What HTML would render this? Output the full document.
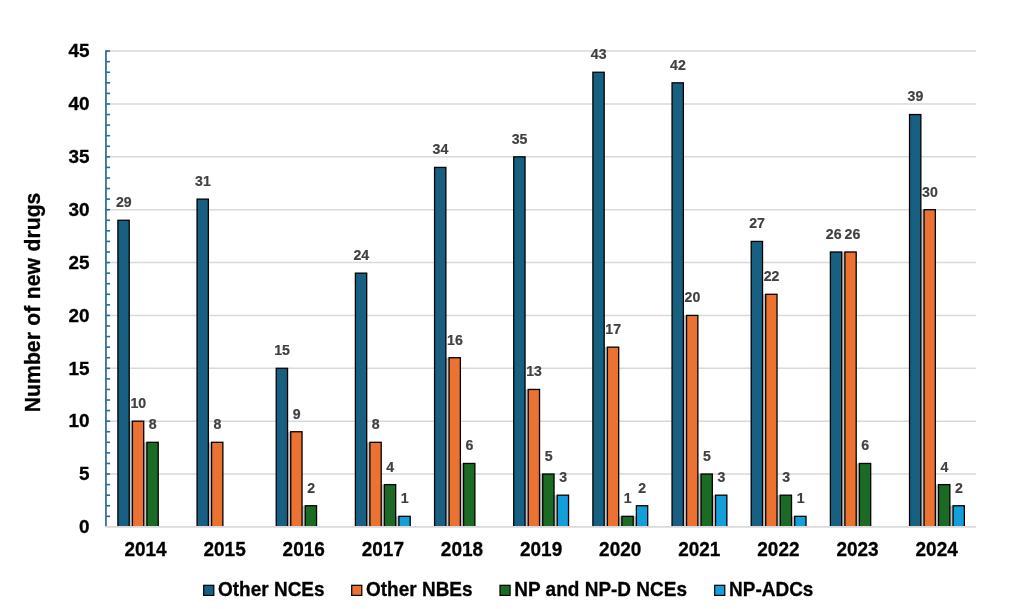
<!DOCTYPE html>
<html lang="en"><head><meta charset="utf-8"><title>Number of new drugs</title>
<style>html,body{margin:0;padding:0;background:#fff;width:1026px;height:609px;overflow:hidden}</style></head>
<body>
<svg width="1026" height="609" viewBox="0 0 1026 609" style="display:block;position:absolute;left:0;top:0">
<rect width="1026" height="609" fill="#fff"/>
<g stroke="#d9d9d9" stroke-width="1.5">
<line x1="105.95" x2="976.2" y1="474.03" y2="474.03"/>
<line x1="105.95" x2="976.2" y1="421.17" y2="421.17"/>
<line x1="105.95" x2="976.2" y1="368.30" y2="368.30"/>
<line x1="105.95" x2="976.2" y1="315.43" y2="315.43"/>
<line x1="105.95" x2="976.2" y1="262.57" y2="262.57"/>
<line x1="105.95" x2="976.2" y1="209.70" y2="209.70"/>
<line x1="105.95" x2="976.2" y1="156.83" y2="156.83"/>
<line x1="105.95" x2="976.2" y1="103.97" y2="103.97"/>
<line x1="105.95" x2="976.2" y1="51.10" y2="51.10"/>
</g>
<g fill="#c4c4c4">
<rect x="129.21" y="421.17" width="3.20" height="105.73"/>
<rect x="143.71" y="442.31" width="3.20" height="84.59"/>
<rect x="208.37" y="442.31" width="3.20" height="84.59"/>
<rect x="287.54" y="431.74" width="3.20" height="95.16"/>
<rect x="302.04" y="505.75" width="3.20" height="21.15"/>
<rect x="366.70" y="442.31" width="3.20" height="84.59"/>
<rect x="381.20" y="484.61" width="3.20" height="42.29"/>
<rect x="395.70" y="516.33" width="3.20" height="10.57"/>
<rect x="445.87" y="357.73" width="3.20" height="169.17"/>
<rect x="460.37" y="463.46" width="3.20" height="63.44"/>
<rect x="525.03" y="389.45" width="3.20" height="137.45"/>
<rect x="539.53" y="474.03" width="3.20" height="52.87"/>
<rect x="554.03" y="495.18" width="3.20" height="31.72"/>
<rect x="604.19" y="347.15" width="3.20" height="179.75"/>
<rect x="618.69" y="516.33" width="3.20" height="10.57"/>
<rect x="633.19" y="516.33" width="3.20" height="10.57"/>
<rect x="683.36" y="315.43" width="3.20" height="211.47"/>
<rect x="697.86" y="474.03" width="3.20" height="52.87"/>
<rect x="712.36" y="495.18" width="3.20" height="31.72"/>
<rect x="762.52" y="294.29" width="3.20" height="232.61"/>
<rect x="777.02" y="495.18" width="3.20" height="31.72"/>
<rect x="791.52" y="516.33" width="3.20" height="10.57"/>
<rect x="841.69" y="251.99" width="3.20" height="274.91"/>
<rect x="856.19" y="463.46" width="3.20" height="63.44"/>
<rect x="920.85" y="209.70" width="3.20" height="317.20"/>
<rect x="935.35" y="484.61" width="3.20" height="42.29"/>
<rect x="949.85" y="505.75" width="3.20" height="21.15"/>
</g>
<g fill="#176082" stroke="#000" stroke-width="1.3">
<rect x="117.91" y="220.27" width="11.3" height="308.63"/>
<rect x="197.07" y="199.13" width="11.3" height="329.77"/>
<rect x="276.24" y="368.30" width="11.3" height="160.60"/>
<rect x="355.40" y="273.14" width="11.3" height="255.76"/>
<rect x="434.57" y="167.41" width="11.3" height="361.49"/>
<rect x="513.73" y="156.83" width="11.3" height="372.07"/>
<rect x="592.89" y="72.25" width="11.3" height="456.65"/>
<rect x="672.06" y="82.82" width="11.3" height="446.08"/>
<rect x="751.22" y="241.42" width="11.3" height="287.48"/>
<rect x="830.39" y="251.99" width="11.3" height="276.91"/>
<rect x="909.55" y="114.54" width="11.3" height="414.36"/>
</g>
<g fill="#ec7231" stroke="#000" stroke-width="1.3">
<rect x="132.41" y="421.17" width="11.3" height="107.73"/>
<rect x="211.57" y="442.31" width="11.3" height="86.59"/>
<rect x="290.74" y="431.74" width="11.3" height="97.16"/>
<rect x="369.90" y="442.31" width="11.3" height="86.59"/>
<rect x="449.07" y="357.73" width="11.3" height="171.17"/>
<rect x="528.23" y="389.45" width="11.3" height="139.45"/>
<rect x="607.39" y="347.15" width="11.3" height="181.75"/>
<rect x="686.56" y="315.43" width="11.3" height="213.47"/>
<rect x="765.72" y="294.29" width="11.3" height="234.61"/>
<rect x="844.89" y="251.99" width="11.3" height="276.91"/>
<rect x="924.05" y="209.70" width="11.3" height="319.20"/>
</g>
<g fill="#1b6b25" stroke="#000" stroke-width="1.3">
<rect x="146.91" y="442.31" width="11.3" height="86.59"/>
<rect x="305.24" y="505.75" width="11.3" height="23.15"/>
<rect x="384.40" y="484.61" width="11.3" height="44.29"/>
<rect x="463.57" y="463.46" width="11.3" height="65.44"/>
<rect x="542.73" y="474.03" width="11.3" height="54.87"/>
<rect x="621.89" y="516.33" width="11.3" height="12.57"/>
<rect x="701.06" y="474.03" width="11.3" height="54.87"/>
<rect x="780.22" y="495.18" width="11.3" height="33.72"/>
<rect x="859.39" y="463.46" width="11.3" height="65.44"/>
<rect x="938.55" y="484.61" width="11.3" height="44.29"/>
</g>
<g fill="#13a0d8" stroke="#000" stroke-width="1.3">
<rect x="398.90" y="516.33" width="11.3" height="12.57"/>
<rect x="557.23" y="495.18" width="11.3" height="33.72"/>
<rect x="636.39" y="505.75" width="11.3" height="23.15"/>
<rect x="715.56" y="495.18" width="11.3" height="33.72"/>
<rect x="794.72" y="516.33" width="11.3" height="12.57"/>
<rect x="953.05" y="505.75" width="11.3" height="23.15"/>
</g>
<rect x="100" y="526.90" width="900" height="6" fill="#fff"/>
<g stroke="#256b92">
<line x1="105.95" x2="105.95" y1="50.30" y2="526.90" stroke-width="1.7"/>
<line x1="105.95" x2="110.05" y1="516.33" y2="516.33" stroke-width="1.6"/>
<line x1="105.95" x2="110.05" y1="505.75" y2="505.75" stroke-width="1.6"/>
<line x1="105.95" x2="110.05" y1="495.18" y2="495.18" stroke-width="1.6"/>
<line x1="105.95" x2="110.05" y1="484.61" y2="484.61" stroke-width="1.6"/>
<line x1="105.95" x2="110.05" y1="474.03" y2="474.03" stroke-width="1.6"/>
<line x1="105.95" x2="110.05" y1="463.46" y2="463.46" stroke-width="1.6"/>
<line x1="105.95" x2="110.05" y1="452.89" y2="452.89" stroke-width="1.6"/>
<line x1="105.95" x2="110.05" y1="442.31" y2="442.31" stroke-width="1.6"/>
<line x1="105.95" x2="110.05" y1="431.74" y2="431.74" stroke-width="1.6"/>
<line x1="105.95" x2="110.05" y1="421.17" y2="421.17" stroke-width="1.6"/>
<line x1="105.95" x2="110.05" y1="410.59" y2="410.59" stroke-width="1.6"/>
<line x1="105.95" x2="110.05" y1="400.02" y2="400.02" stroke-width="1.6"/>
<line x1="105.95" x2="110.05" y1="389.45" y2="389.45" stroke-width="1.6"/>
<line x1="105.95" x2="110.05" y1="378.87" y2="378.87" stroke-width="1.6"/>
<line x1="105.95" x2="110.05" y1="368.30" y2="368.30" stroke-width="1.6"/>
<line x1="105.95" x2="110.05" y1="357.73" y2="357.73" stroke-width="1.6"/>
<line x1="105.95" x2="110.05" y1="347.15" y2="347.15" stroke-width="1.6"/>
<line x1="105.95" x2="110.05" y1="336.58" y2="336.58" stroke-width="1.6"/>
<line x1="105.95" x2="110.05" y1="326.01" y2="326.01" stroke-width="1.6"/>
<line x1="105.95" x2="110.05" y1="315.43" y2="315.43" stroke-width="1.6"/>
<line x1="105.95" x2="110.05" y1="304.86" y2="304.86" stroke-width="1.6"/>
<line x1="105.95" x2="110.05" y1="294.29" y2="294.29" stroke-width="1.6"/>
<line x1="105.95" x2="110.05" y1="283.71" y2="283.71" stroke-width="1.6"/>
<line x1="105.95" x2="110.05" y1="273.14" y2="273.14" stroke-width="1.6"/>
<line x1="105.95" x2="110.05" y1="262.57" y2="262.57" stroke-width="1.6"/>
<line x1="105.95" x2="110.05" y1="251.99" y2="251.99" stroke-width="1.6"/>
<line x1="105.95" x2="110.05" y1="241.42" y2="241.42" stroke-width="1.6"/>
<line x1="105.95" x2="110.05" y1="230.85" y2="230.85" stroke-width="1.6"/>
<line x1="105.95" x2="110.05" y1="220.27" y2="220.27" stroke-width="1.6"/>
<line x1="105.95" x2="110.05" y1="209.70" y2="209.70" stroke-width="1.6"/>
<line x1="105.95" x2="110.05" y1="199.13" y2="199.13" stroke-width="1.6"/>
<line x1="105.95" x2="110.05" y1="188.55" y2="188.55" stroke-width="1.6"/>
<line x1="105.95" x2="110.05" y1="177.98" y2="177.98" stroke-width="1.6"/>
<line x1="105.95" x2="110.05" y1="167.41" y2="167.41" stroke-width="1.6"/>
<line x1="105.95" x2="110.05" y1="156.83" y2="156.83" stroke-width="1.6"/>
<line x1="105.95" x2="110.05" y1="146.26" y2="146.26" stroke-width="1.6"/>
<line x1="105.95" x2="110.05" y1="135.69" y2="135.69" stroke-width="1.6"/>
<line x1="105.95" x2="110.05" y1="125.11" y2="125.11" stroke-width="1.6"/>
<line x1="105.95" x2="110.05" y1="114.54" y2="114.54" stroke-width="1.6"/>
<line x1="105.95" x2="110.05" y1="103.97" y2="103.97" stroke-width="1.6"/>
<line x1="105.95" x2="110.05" y1="93.39" y2="93.39" stroke-width="1.6"/>
<line x1="105.95" x2="110.05" y1="82.82" y2="82.82" stroke-width="1.6"/>
<line x1="105.95" x2="110.05" y1="72.25" y2="72.25" stroke-width="1.6"/>
<line x1="105.95" x2="110.05" y1="61.67" y2="61.67" stroke-width="1.6"/>
<line x1="105.95" x2="110.05" y1="51.10" y2="51.10" stroke-width="1.6"/>
</g>
<line x1="105.15" x2="976.2" y1="526.80" y2="526.80" stroke="#d9d9d9" stroke-width="1.7"/>
<g font-family="'Liberation Sans', Arial, Helvetica, sans-serif" font-weight="700" font-size="18.9" fill="#000" stroke="#000" stroke-width="0.3" text-anchor="end">
<text transform="translate(89.6,533.10)">0</text>
<text transform="translate(89.6,480.23)">5</text>
<text transform="translate(89.6,427.37)">10</text>
<text transform="translate(89.6,374.50)">15</text>
<text transform="translate(89.6,321.63)">20</text>
<text transform="translate(89.6,268.77)">25</text>
<text transform="translate(89.6,215.90)">30</text>
<text transform="translate(89.6,163.03)">35</text>
<text transform="translate(89.6,110.17)">40</text>
<text transform="translate(89.6,57.30)">45</text>
</g>
<g font-family="'Liberation Sans', Arial, Helvetica, sans-serif" font-weight="700" font-size="19.9" fill="#000" stroke="#000" stroke-width="0.3" text-anchor="middle">
<text transform="translate(145.51,555.7) scale(0.955,1)">2014</text>
<text transform="translate(224.62,555.7) scale(0.955,1)">2015</text>
<text transform="translate(303.73,555.7) scale(0.955,1)">2016</text>
<text transform="translate(382.85,555.7) scale(0.955,1)">2017</text>
<text transform="translate(461.96,555.7) scale(0.955,1)">2018</text>
<text transform="translate(541.08,555.7) scale(0.955,1)">2019</text>
<text transform="translate(620.19,555.7) scale(0.955,1)">2020</text>
<text transform="translate(699.30,555.7) scale(0.955,1)">2021</text>
<text transform="translate(778.42,555.7) scale(0.955,1)">2022</text>
<text transform="translate(857.53,555.7) scale(0.955,1)">2023</text>
<text transform="translate(936.64,555.7) scale(0.955,1)">2024</text>
</g>
<text transform="translate(40.2,302.4) rotate(-90)" font-family="'Liberation Sans', Arial, Helvetica, sans-serif" font-weight="700" font-size="21.2" word-spacing="0.6" fill="#000" stroke="#000" stroke-width="0.3" text-anchor="middle">Number of new drugs</text>
<g font-family="'Liberation Sans', Arial, Helvetica, sans-serif" font-weight="700" font-size="15.4" fill="#404040" stroke="#404040" stroke-width="0.2" text-anchor="middle">
<text transform="translate(123.76,207.17) scale(0.92,1)">29</text>
<text transform="translate(138.26,408.07) scale(0.92,1)">10</text>
<text transform="translate(152.76,429.21) scale(0.92,1)">8</text>
<text transform="translate(202.92,186.03) scale(0.92,1)">31</text>
<text transform="translate(217.42,429.21) scale(0.92,1)">8</text>
<text transform="translate(282.09,355.20) scale(0.92,1)">15</text>
<text transform="translate(296.59,418.64) scale(0.92,1)">9</text>
<text transform="translate(311.09,492.65) scale(0.92,1)">2</text>
<text transform="translate(361.25,260.04) scale(0.92,1)">24</text>
<text transform="translate(375.75,429.21) scale(0.92,1)">8</text>
<text transform="translate(390.25,471.51) scale(0.92,1)">4</text>
<text transform="translate(404.75,503.23) scale(0.92,1)">1</text>
<text transform="translate(440.42,154.31) scale(0.92,1)">34</text>
<text transform="translate(454.92,344.63) scale(0.92,1)">16</text>
<text transform="translate(469.42,450.36) scale(0.92,1)">6</text>
<text transform="translate(519.58,143.73) scale(0.92,1)">35</text>
<text transform="translate(534.08,376.35) scale(0.92,1)">13</text>
<text transform="translate(548.58,460.93) scale(0.92,1)">5</text>
<text transform="translate(563.08,482.08) scale(0.92,1)">3</text>
<text transform="translate(598.74,59.15) scale(0.92,1)">43</text>
<text transform="translate(613.24,334.05) scale(0.92,1)">17</text>
<text transform="translate(627.74,503.23) scale(0.92,1)">1</text>
<text transform="translate(642.24,492.65) scale(0.92,1)">2</text>
<text transform="translate(677.91,69.72) scale(0.92,1)">42</text>
<text transform="translate(692.41,302.33) scale(0.92,1)">20</text>
<text transform="translate(706.91,460.93) scale(0.92,1)">5</text>
<text transform="translate(721.41,482.08) scale(0.92,1)">3</text>
<text transform="translate(757.07,228.32) scale(0.92,1)">27</text>
<text transform="translate(771.57,281.19) scale(0.92,1)">22</text>
<text transform="translate(786.07,482.08) scale(0.92,1)">3</text>
<text transform="translate(800.57,503.23) scale(0.92,1)">1</text>
<text transform="translate(833.64,238.89) scale(0.92,1)">26</text>
<text transform="translate(852.44,238.89) scale(0.92,1)">26</text>
<text transform="translate(865.24,450.36) scale(0.92,1)">6</text>
<text transform="translate(915.40,101.44) scale(0.92,1)">39</text>
<text transform="translate(929.90,196.60) scale(0.92,1)">30</text>
<text transform="translate(944.40,471.51) scale(0.92,1)">4</text>
<text transform="translate(958.90,492.65) scale(0.92,1)">2</text>
</g>
<g font-family="'Liberation Sans', Arial, Helvetica, sans-serif" font-weight="700" font-size="20" fill="#000" stroke-width="0.3">
<rect x="203.7" y="585.3" width="10.1" height="10.1" fill="#176082" stroke="#000" stroke-width="1.2"/>
<text stroke="#000" transform="translate(218.00,596.4) scale(0.95,1)">Other NCEs</text>
<rect x="351.7" y="585.3" width="10.1" height="10.1" fill="#ec7231" stroke="#000" stroke-width="1.2"/>
<text stroke="#000" transform="translate(366.00,596.4) scale(0.95,1)">Other NBEs</text>
<rect x="500.0" y="585.3" width="10.1" height="10.1" fill="#1b6b25" stroke="#000" stroke-width="1.2"/>
<text stroke="#000" transform="translate(514.30,596.4) scale(0.95,1)">NP and NP-D NCEs</text>
<rect x="714.7" y="585.3" width="10.1" height="10.1" fill="#13a0d8" stroke="#000" stroke-width="1.2"/>
<text stroke="#000" transform="translate(729.00,596.4) scale(0.95,1)">NP-ADCs</text>
</g>
</svg>
</body></html>
